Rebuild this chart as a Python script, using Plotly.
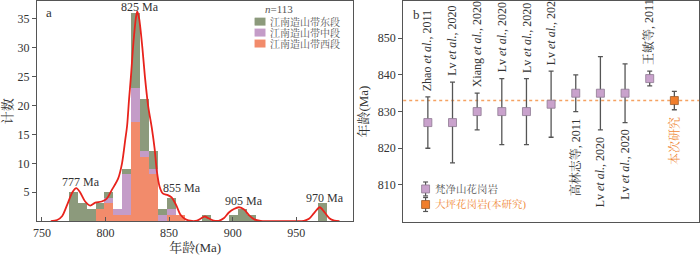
import plotly.graph_objects as go

# ---------------- data: panel a (histogram, 7 Ma bins) ----------------
bin_start = [771, 778, 785, 792, 799, 806, 813, 820, 827, 834, 841, 848, 855, 876, 897, 904, 911, 967]
bin_width = 7
west   = [0, 0, 0, 2, 3, 1, 1, 17, 11, 8, 0, 1, 1, 0, 0, 0, 0, 0]   # 江南造山带西段
middle = [0, 0, 0, 0, 1, 1, 7, 6, 1, 1, 1, 1, 0, 0, 0, 0, 0, 0]     # 江南造山带中段
east   = [5, 3, 2, 1, 1, 0, 1, 13, 9, 3, 1, 2, 0, 1, 1, 2, 1, 3]    # 江南造山带东段
series_names = ["江南造山带东段", "江南造山带中段", "江南造山带西段"]
series_colors = ["#8C9A7C", "#C49CC8", "#F28B6B"]

# KDE curve
kde_x = [757, 762, 766, 770, 774, 777, 780, 784, 788, 792, 797, 801, 805, 810, 813, 815.5, 817, 818.5,
         820, 822, 824, 825, 826.5, 829, 831, 833.5, 836.5, 838.6, 840.4, 842.5, 845, 849, 852, 855.5,
         859, 863, 868, 872, 875, 878, 881, 885, 889, 893, 897, 901, 905, 909, 913, 917, 922, 930,
         940, 950, 956, 960, 964, 968.5, 972, 976, 980, 984]
kde_y = [0, 0.2, 0.9, 2.9, 5.0, 5.7, 5.0, 3.4, 2.7, 3.2, 3.4, 3.9, 5.4, 7.4, 10.0, 14.0, 16.5, 21.0,
         25.0, 31.0, 35.3, 36.3, 35.0, 30.0, 25.0, 20.0, 16.0, 12.6, 8.6, 6.0, 4.8, 4.5, 4.1, 2.8,
         1.1, 0.3, 0.03, 0.1, 0.45, 0.8, 0.5, 0.1, 0.05, 0.5, 1.5, 2.1, 2.4, 2.0, 1.0, 0.3, 0.03, 0,
         0, 0, 0.05, 0.4, 1.4, 2.4, 1.6, 0.5, 0.1, 0]

peak_labels = ["777 Ma", "825 Ma", "855 Ma", "905 Ma", "970 Ma"]
peak_lab_x = [781, 827.5, 860, 909, 972.5]
peak_lab_y = [6.8, 37.0, 5.7, 3.5, 4.0]

# ---------------- data: panel b (age compilation) ----------------
ages     = [827, 827, 830, 830, 830, 832, 835, 835, 835, 839, 833]
age_errs = [7, 11, 5, 9, 9, 9, 5, 10, 8, 2, 2.5]
refs = ["Zhao <i>et al.</i>, 2011", "Lv <i>et al.</i>, 2020", "Xiang <i>et al.</i>, 2020",
        "Lv <i>et al.</i>, 2020", "Lv <i>et al.</i>, 2020", "Lv <i>et al.</i>, 2020",
        "高林志等, 2011", "Lv <i>et al.</i>, 2020", "Lv <i>et al.</i>, 2020",
        "王敏等, 2011", "本次研究"]
ref_above = [True, True, True, True, True, True, False, False, False, True, False]
this_study = [False] * 10 + [True]
mean_age = 833
group_names = ["梵净山花岗岩", "大坪花岗岩(本研究)"]
group_colors = ["#C9A2CC", "#F07E2C"]
group_edges = ["#8E7A92", "#9A5A2A"]

FONT = "Liberation Serif, Noto Serif CJK SC, Noto Sans CJK SC, serif"
TXT = "#333333"
W, H = 700, 256

def px(x):
    return x / W

def py(y):
    return 1 - y / H

fig = go.Figure()

# stacked histogram: bottom west, then middle, then east
bin_centers = [s + bin_width / 2 for s in bin_start]
for vals, name, col in [(west, series_names[2], series_colors[2]),
                        (middle, series_names[1], series_colors[1]),
                        (east, series_names[0], series_colors[0])]:
    fig.add_trace(go.Bar(x=bin_centers, y=vals, width=bin_width, name=name,
                         marker=dict(color=col, line=dict(width=0)),
                         xaxis="x", yaxis="y", showlegend=False))

fig.add_trace(go.Scatter(x=kde_x, y=kde_y, mode="lines", line=dict(color="#E8231C", width=1.8, shape="spline", smoothing=0.8),
                         xaxis="x", yaxis="y", showlegend=False))

# panel b points
idx = list(range(1, len(ages) + 1))
for g in (False, True):
    xs = [i for i, t in zip(idx, this_study) if t == g]
    ys = [a for a, t in zip(ages, this_study) if t == g]
    es = [e for e, t in zip(age_errs, this_study) if t == g]
    k = 1 if g else 0
    fig.add_trace(go.Scatter(x=xs, y=ys, mode="markers", name=group_names[k],
                             marker=dict(symbol="square", size=8, color=group_colors[k],
                                         line=dict(color=group_edges[k], width=0.8)),
                             error_y=dict(type="data", array=es, visible=True, color="#555555",
                                          thickness=1.3, width=2.5),
                             xaxis="x2", yaxis="y2", showlegend=False))

annotations = []
# peak labels
for t, x, y in zip(peak_labels, peak_lab_x, peak_lab_y):
    annotations.append(dict(x=x, y=y, xref="x", yref="y", text=t, showarrow=False,
                            xanchor="center", yanchor="middle",
                            font=dict(family=FONT, size=12, color=TXT)))
# panel letters
annotations.append(dict(x=px(45), y=py(12), xref="paper", yref="paper", text="a", showarrow=False,
                        xanchor="center", yanchor="middle", font=dict(family=FONT, size=13, color=TXT)))
annotations.append(dict(x=px(415), y=py(14), xref="paper", yref="paper", text="b", showarrow=False,
                        xanchor="center", yanchor="middle", font=dict(family=FONT, size=13, color=TXT)))

# legend a (manual, compact)
annotations.append(dict(x=px(277), y=py(8), xref="paper", yref="paper", text="<i>n</i>=113", showarrow=False,
                        xanchor="center", yanchor="middle", font=dict(family=FONT, size=11, color="#555555")))
shapes = []
leg_y = [20.7, 31.7, 42.7]
for name, col, yy in zip(series_names, series_colors, leg_y):
    shapes.append(dict(type="rect", xref="paper", yref="paper", x0=px(252), x1=px(263),
                       y0=py(yy + 4), y1=py(yy - 4), fillcolor=col, line=dict(width=0)))
    annotations.append(dict(x=px(266), y=py(yy), xref="paper", yref="paper", text=name, showarrow=False,
                            xanchor="left", yanchor="middle", font=dict(family=FONT, size=10, color="#555555")))

# panel b reference labels
for i, a, e, t, above, ts in zip(idx, ages, age_errs, refs, ref_above, this_study):
    col = "#F08A3A" if ts else TXT
    if above:
        annotations.append(dict(x=i, y=a + e, xref="x2", yref="y2", text=t, textangle=-90, showarrow=False,
                                xanchor="center", yanchor="bottom", yshift=4,
                                font=dict(family=FONT, size=12, color=col)))
    else:
        annotations.append(dict(x=i, y=a - e, xref="x2", yref="y2", text=t, textangle=-90, showarrow=False,
                                xanchor="center", yanchor="top", yshift=-5,
                                font=dict(family=FONT, size=12, color=col)))

# legend b (manual)
leg_b_y = [188.7, 204.3]
for name, col, edge, yy in zip(group_names, group_colors, group_edges, leg_b_y):
    shapes.append(dict(type="line", xref="paper", yref="paper", x0=px(424), x1=px(424),
                       y0=py(yy - 7), y1=py(yy + 7), line=dict(color="#555555", width=1.2)))
    for dy in (-7, 7):
        shapes.append(dict(type="line", xref="paper", yref="paper", x0=px(421.5), x1=px(426.5),
                           y0=py(yy + dy), y1=py(yy + dy), line=dict(color="#555555", width=1.2)))
    shapes.append(dict(type="rect", xref="paper", yref="paper", x0=px(420), x1=px(428),
                       y0=py(yy + 4), y1=py(yy - 4), fillcolor=col, line=dict(color=edge, width=0.8)))
    annotations.append(dict(x=px(431), y=py(yy), xref="paper", yref="paper", text=name, showarrow=False,
                            xanchor="left", yanchor="middle",
                            font=dict(family=FONT, size=10.5, color=("#F08A3A" if col == group_colors[1] else "#555555"))))

# mean age dotted line
shapes.append(dict(type="line", xref="x2 domain", yref="y2", x0=0, x1=1, y0=mean_age, y1=mean_age,
                   line=dict(color="#F5A262", width=1.6, dash="dot"), layer="below"))

axis_common = dict(showline=True, linecolor="#555555", linewidth=1, mirror=True, showgrid=False,
                   zeroline=False, tickfont=dict(family=FONT, size=12, color=TXT), ticklen=4,
                   tickcolor="#555555")

fig.update_layout(
    width=W, height=H, margin=dict(l=0, r=0, t=0, b=0),
    paper_bgcolor="white", plot_bgcolor="white",
    barmode="stack", bargap=0, showlegend=False,
    xaxis=dict(domain=[px(33), px(351.5)], range=[746, 995], tickvals=[750, 800, 850, 900, 950],
               ticks="inside", title=dict(text="年龄(Ma)", standoff=4, font=dict(family=FONT, size=13, color=TXT)),
               anchor="y", **axis_common),
    yaxis=dict(domain=[py(221), py(0.5)], range=[0, 38], tickvals=[5, 10, 15, 20, 25, 30, 35],
               ticks="outside", title=dict(text="计数", standoff=3, font=dict(family=FONT, size=13, color=TXT)),
               anchor="x", **axis_common),
    xaxis2=dict(domain=[px(401.5), px(699)], range=[0, 12], showticklabels=False, ticks="",
                anchor="y2", **axis_common),
    yaxis2=dict(domain=[py(221.5), py(0.5)], range=[800, 860], tickvals=[810, 820, 830, 840, 850],
                ticks="outside", title=dict(text="年龄(Ma)", standoff=6, font=dict(family=FONT, size=13, color=TXT)),
                anchor="x2", **axis_common),
    annotations=annotations, shapes=shapes,
)

fig.write_html("out.html", config={"displayModeBar": False},
               post_script="document.body.style.margin='0';document.body.style.overflow='hidden';")
